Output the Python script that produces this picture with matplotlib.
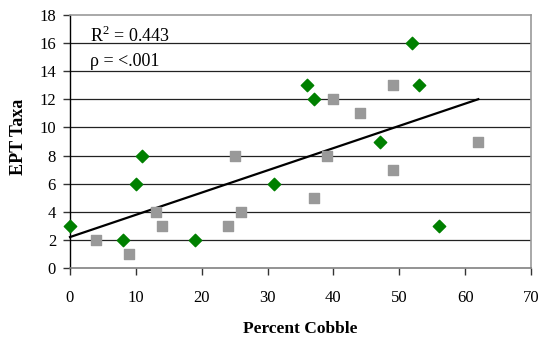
import numpy as np
import matplotlib
matplotlib.use("Agg")
import matplotlib.pyplot as plt

plt.rcParams['font.family'] = ['Liberation Serif', 'DejaVu Serif']
plt.rcParams['mathtext.fontset'] = 'custom'
plt.rcParams['mathtext.rm'] = 'Liberation Serif'

# Site group 1 (green diamonds)
cobble_a = [0, 8, 10, 11, 19, 31, 36, 37, 47, 52, 53, 56]
ept_a = [3, 2, 6, 8, 2, 6, 13, 12, 9, 16, 13, 3]

# Site group 2 (gray squares)
cobble_b = [4, 9, 13, 14, 24, 25, 26, 37, 39, 40, 44, 49, 49, 62]
ept_b = [2, 1, 4, 3, 3, 8, 4, 5, 8, 12, 11, 13, 7, 9]

x_ticks = [0, 10, 20, 30, 40, 50, 60, 70]
y_ticks = [0, 2, 4, 6, 8, 10, 12, 14, 16, 18]

fig = plt.figure(figsize=(5.43, 3.38), dpi=100)
ax = fig.add_axes([70 / 543, 70 / 338, 461 / 543, 253 / 338])

ax.set_xlim(0, 70)
ax.set_ylim(0, 18)
ax.set_xticks(x_ticks)
ax.set_yticks(y_ticks)

# horizontal gridlines
for yv in y_ticks[1:-1]:
    ax.axhline(yv, color='#222222', lw=0.9, zorder=1)

ax.spines['left'].set_color('black')
ax.spines['left'].set_linewidth(1.0)
ax.spines['bottom'].set_color('#808080')
ax.spines['bottom'].set_linewidth(1.2)
ax.spines['top'].set_color('#999999')
ax.spines['top'].set_linewidth(1.2)
ax.spines['right'].set_color('#999999')
ax.spines['right'].set_linewidth(1.2)

ax.tick_params(axis='both', direction='out', length=5, width=1,
               labelsize=12, color='#333333')
ax.tick_params(axis='x', pad=11)
ax.tick_params(axis='y', pad=5)

# linear trend through all sites
all_x = np.array(cobble_a + cobble_b, dtype=float)
all_y = np.array(ept_a + ept_b, dtype=float)
slope, intercept = np.polyfit(all_x, all_y, 1)
xx = np.array([all_x.min(), all_x.max()])
ax.plot(xx, intercept + slope * xx, color='black', lw=1.6, zorder=2,
        clip_on=False)

ax.scatter(cobble_a, ept_a, marker='D', s=40, color='#008000',
           edgecolors='#008000', zorder=3, clip_on=False)
ax.scatter(cobble_b, ept_b, marker='s', s=44, color='#999999',
           edgecolors='#999999', zorder=3, clip_on=False)

ax.text(3.0, 16.1, r'R$^{2}$ = 0.443', fontsize=13, ha='left', va='baseline')
ax.text(3.0, 14.4, 'ρ = <.001', fontsize=13, ha='left', va='baseline')

ax.set_xlabel('Percent Cobble', fontsize=12.5, fontweight='bold')
ax.xaxis.set_label_coords(0.5, -0.255)
ax.xaxis.label.set_va('baseline')
ax.set_ylabel('EPT Taxa', fontsize=13, fontweight='bold')
ax.yaxis.set_label_coords(-0.112, 0.52)
ax.yaxis.label.set_va('center')

fig.savefig('out.png', dpi=100)
